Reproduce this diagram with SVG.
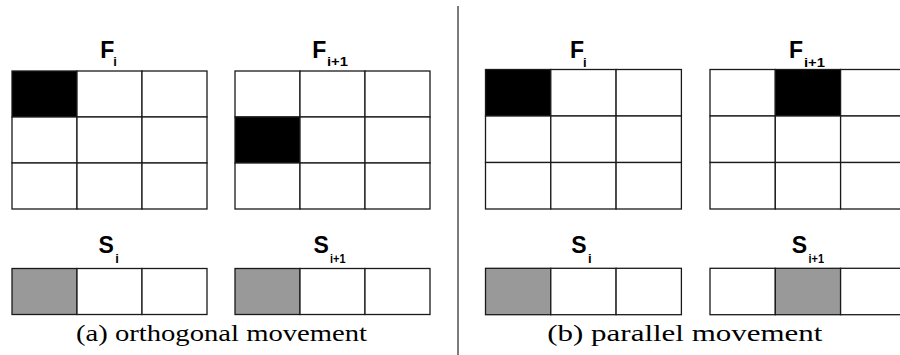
<svg xmlns="http://www.w3.org/2000/svg" width="900" height="355" viewBox="0 0 900 355">
  <style>
    .cell { fill: #ffffff; stroke: #1a1a1a; stroke-width: 1.3; }
    .on { fill: #000000; }
    .sel { fill: #999999; }
    .lbl { font-family: "Liberation Sans", Arial, sans-serif; font-weight: bold; font-size: 23px; fill: #000; }
    .sub { font-family: "Liberation Sans", Arial, sans-serif; font-weight: bold; font-size: 13px; fill: #000; }
    .cap { font-family: "Liberation Serif", "Times New Roman", serif; font-size: 24px; fill: #000; }
    .divider { stroke: #444444; stroke-width: 1.4; }
  </style>
  <rect width="900" height="355" fill="#ffffff"/>

  <!-- (a) orthogonal movement -->
  <g id="a-frame-i">
    <text class="lbl" x="100.3" y="57.5">F</text>
    <text class="sub" x="113.3" y="66">i</text>
    <rect class="cell on" x="12" y="71" width="65" height="46"/>
    <rect class="cell" x="77" y="71" width="65" height="46"/>
    <rect class="cell" x="142" y="71" width="65" height="46"/>
    <rect class="cell" x="12" y="117" width="65" height="46"/>
    <rect class="cell" x="77" y="117" width="65" height="46"/>
    <rect class="cell" x="142" y="117" width="65" height="46"/>
    <rect class="cell" x="12" y="163" width="65" height="46"/>
    <rect class="cell" x="77" y="163" width="65" height="46"/>
    <rect class="cell" x="142" y="163" width="65" height="46"/>
  </g>
  <g id="a-frame-i1">
    <text class="lbl" x="312.3" y="57.5">F</text>
    <text class="sub" x="327" y="66" textLength="21" lengthAdjust="spacingAndGlyphs">i+1</text>
    <rect class="cell" x="235" y="71" width="65" height="46"/>
    <rect class="cell" x="300" y="71" width="65" height="46"/>
    <rect class="cell" x="365" y="71" width="65" height="46"/>
    <rect class="cell on" x="235" y="117" width="65" height="46"/>
    <rect class="cell" x="300" y="117" width="65" height="46"/>
    <rect class="cell" x="365" y="117" width="65" height="46"/>
    <rect class="cell" x="235" y="163" width="65" height="46"/>
    <rect class="cell" x="300" y="163" width="65" height="46"/>
    <rect class="cell" x="365" y="163" width="65" height="46"/>
  </g>
  <g id="a-state-i">
    <text class="lbl" x="98.5" y="252.5">S</text>
    <text class="sub" x="115.2" y="263.3">i</text>
    <rect class="cell sel" x="12" y="268.5" width="65" height="46"/>
    <rect class="cell" x="77" y="268.5" width="65" height="46"/>
    <rect class="cell" x="142" y="268.5" width="65" height="46"/>
  </g>
  <g id="a-state-i1">
    <text class="lbl" x="313.5" y="252.5">S</text>
    <text class="sub" x="330" y="263.3" textLength="15.5" lengthAdjust="spacingAndGlyphs">i+1</text>
    <rect class="cell sel" x="235" y="268.5" width="65" height="46"/>
    <rect class="cell" x="300" y="268.5" width="65" height="46"/>
    <rect class="cell" x="365" y="268.5" width="65" height="46"/>
  </g>
  <text class="cap" x="76" y="341" textLength="291" lengthAdjust="spacingAndGlyphs">(a) orthogonal movement</text>

  <!-- panel separator -->
  <g id="connectors">
    <line class="divider" x1="458" y1="6" x2="458" y2="355"/>
  </g>

  <!-- (b) parallel movement -->
  <g id="b-frame-i">
    <text class="lbl" x="570" y="58">F</text>
    <text class="sub" x="583" y="66.5">i</text>
    <rect class="cell on" x="485.5" y="69.5" width="65.3" height="46.5"/>
    <rect class="cell" x="550.8" y="69.5" width="65.3" height="46.5"/>
    <rect class="cell" x="616.1" y="69.5" width="65.3" height="46.5"/>
    <rect class="cell" x="485.5" y="116" width="65.3" height="46.5"/>
    <rect class="cell" x="550.8" y="116" width="65.3" height="46.5"/>
    <rect class="cell" x="616.1" y="116" width="65.3" height="46.5"/>
    <rect class="cell" x="485.5" y="162.5" width="65.3" height="46.5"/>
    <rect class="cell" x="550.8" y="162.5" width="65.3" height="46.5"/>
    <rect class="cell" x="616.1" y="162.5" width="65.3" height="46.5"/>
  </g>
  <g id="b-frame-i1">
    <text class="lbl" x="789" y="58">F</text>
    <text class="sub" x="804" y="66.5" textLength="21" lengthAdjust="spacingAndGlyphs">i+1</text>
    <rect class="cell" x="710" y="69.5" width="65.3" height="46.5"/>
    <rect class="cell on" x="775.3" y="69.5" width="65.3" height="46.5"/>
    <rect class="cell" x="840.6" y="69.5" width="65.3" height="46.5"/>
    <rect class="cell" x="710" y="116" width="65.3" height="46.5"/>
    <rect class="cell" x="775.3" y="116" width="65.3" height="46.5"/>
    <rect class="cell" x="840.6" y="116" width="65.3" height="46.5"/>
    <rect class="cell" x="710" y="162.5" width="65.3" height="46.5"/>
    <rect class="cell" x="775.3" y="162.5" width="65.3" height="46.5"/>
    <rect class="cell" x="840.6" y="162.5" width="65.3" height="46.5"/>
  </g>
  <g id="b-state-i">
    <text class="lbl" x="571.3" y="252.5">S</text>
    <text class="sub" x="588" y="263.3">i</text>
    <rect class="cell sel" x="485.5" y="268.3" width="65.3" height="46.4"/>
    <rect class="cell" x="550.8" y="268.3" width="65.3" height="46.4"/>
    <rect class="cell" x="616.1" y="268.3" width="65.3" height="46.4"/>
  </g>
  <g id="b-state-i1">
    <text class="lbl" x="791.8" y="252.5">S</text>
    <text class="sub" x="808.5" y="263.3" textLength="15.5" lengthAdjust="spacingAndGlyphs">i+1</text>
    <rect class="cell" x="710" y="268.3" width="65.3" height="46.4"/>
    <rect class="cell sel" x="775.3" y="268.3" width="65.3" height="46.4"/>
    <rect class="cell" x="840.6" y="268.3" width="65.3" height="46.4"/>
  </g>
  <text class="cap" x="547.3" y="341" textLength="275" lengthAdjust="spacingAndGlyphs">(b) parallel movement</text>
</svg>
